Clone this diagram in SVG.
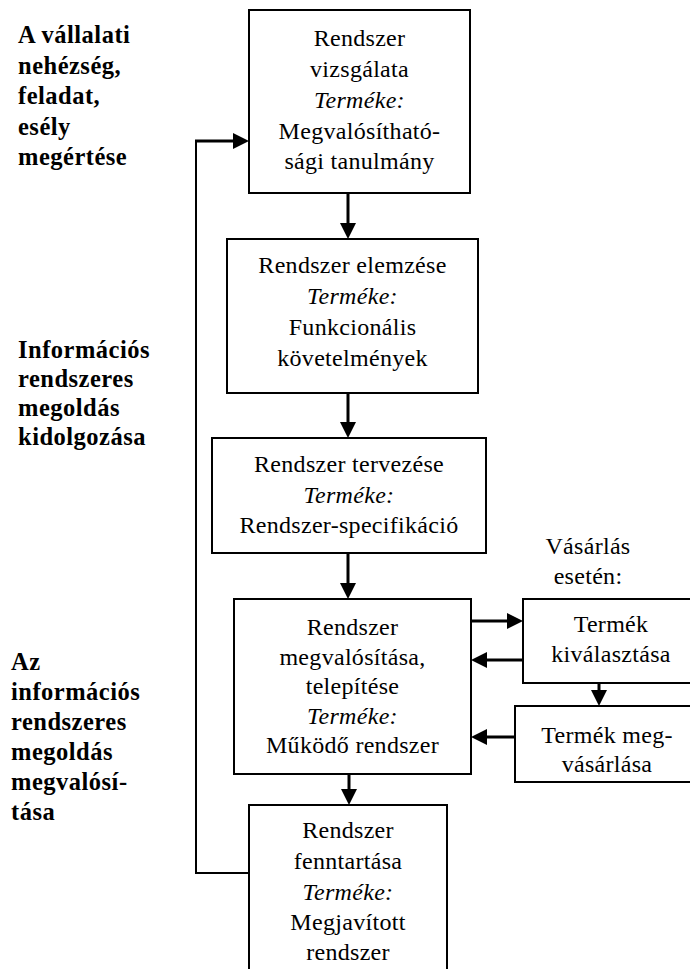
<svg xmlns="http://www.w3.org/2000/svg" width="690" height="969" viewBox="0 0 690 969">
<style>
.box{fill:#fff;stroke:#000;stroke-width:2}
.t{font-family:'Liberation Serif','DejaVu Serif',serif;font-size:24px;letter-spacing:0.3px;fill:#000;text-anchor:middle}
.i{font-style:italic}
.lbl{font-family:'Liberation Serif','DejaVu Serif',serif;font-size:24.5px;font-weight:bold;letter-spacing:0.5px;fill:#000}
.arr{fill:none;stroke:#000;stroke-width:3;marker-end:url(#ah)}
.ln{fill:none;stroke:#000;stroke-width:2}
</style>
<defs>
<marker id="ah" markerUnits="userSpaceOnUse" markerWidth="16" markerHeight="16" refX="12" refY="8" orient="auto" viewBox="0 0 16 16">
<path d="M0,0 L16,8 L0,16 z" fill="#000"/>
</marker>
</defs>
<rect width="690" height="969" fill="#fff"/>

<g id="labels">
<text class="lbl" x="18" y="43">A vállalati</text>
<text class="lbl" x="18" y="73.5">nehézség,</text>
<text class="lbl" x="18" y="104">feladat,</text>
<text class="lbl" x="18" y="134.5">esély</text>
<text class="lbl" x="18" y="165">megértése</text>
<text class="lbl" x="18" y="358">Információs</text>
<text class="lbl" x="18" y="387">rendszeres</text>
<text class="lbl" x="18" y="416">megoldás</text>
<text class="lbl" x="18" y="445">kidolgozása</text>
<text class="lbl" x="11" y="670">Az</text>
<text class="lbl" x="11" y="700">információs</text>
<text class="lbl" x="11" y="730">rendszeres</text>
<text class="lbl" x="11" y="760">megoldás</text>
<text class="lbl" x="11" y="790">megvalósí-</text>
<text class="lbl" x="11" y="820">tása</text>
</g>

<g id="connectors">
<line class="arr" x1="348" y1="193" x2="348" y2="235"/>
<line class="arr" x1="348" y1="393" x2="348" y2="434"/>
<line class="arr" x1="348" y1="553" x2="348" y2="595"/>
<line class="arr" x1="349" y1="774" x2="349" y2="801"/>
<line class="arr" x1="471" y1="621" x2="519" y2="621"/>
<line class="arr" x1="523" y1="660" x2="475" y2="660"/>
<line class="arr" x1="599" y1="683" x2="599" y2="702"/>
<line class="arr" x1="515" y1="737" x2="475" y2="737"/>
<polyline class="ln" points="249,873 196,873 196,141"/>
<line class="arr" x1="195" y1="141" x2="245" y2="141"/>
</g>

<g id="n1">
<rect class="box" x="249" y="10" width="221" height="183"/>
<text class="t" x="359.5" y="46">Rendszer</text>
<text class="t" x="359.5" y="77">vizsgálata</text>
<text class="t i" x="359.5" y="108">Terméke:</text>
<text class="t" x="359.5" y="139">Megvalósítható-</text>
<text class="t" x="359.5" y="169">sági tanulmány</text>
</g>

<g id="n2">
<rect class="box" x="227" y="239" width="251" height="154"/>
<text class="t" x="352.5" y="273">Rendszer elemzése</text>
<text class="t i" x="352.5" y="304">Terméke:</text>
<text class="t" x="352.5" y="335">Funkcionális</text>
<text class="t" x="352.5" y="366">követelmények</text>
</g>

<g id="n3">
<rect class="box" x="212" y="438" width="274" height="115"/>
<text class="t" x="349" y="472">Rendszer tervezése</text>
<text class="t i" x="349" y="503">Terméke:</text>
<text class="t" x="349" y="533">Rendszer-specifikáció</text>
</g>

<g id="n4">
<rect class="box" x="234" y="599" width="237" height="175"/>
<text class="t" x="352.5" y="635">Rendszer</text>
<text class="t" x="352.5" y="664.5">megvalósítása,</text>
<text class="t" x="352.5" y="694">telepítése</text>
<text class="t i" x="352.5" y="723.5">Terméke:</text>
<text class="t" x="352.5" y="753">Működő rendszer</text>
</g>

<g id="n5">
<rect class="box" x="249" y="805" width="198" height="190"/>
<text class="t" x="348" y="838">Rendszer</text>
<text class="t" x="348" y="869">fenntartása</text>
<text class="t i" x="348" y="900">Terméke:</text>
<text class="t" x="348" y="930">Megjavított</text>
<text class="t" x="348" y="960">rendszer</text>
</g>

<g id="note">
<text class="t" x="588" y="554">Vásárlás</text>
<text class="t" x="588" y="584">esetén:</text>
</g>

<g id="n6">
<rect class="box" x="523" y="599" width="180" height="84"/>
<text class="t" x="611" y="632">Termék</text>
<text class="t" x="611" y="662">kiválasztása</text>
</g>

<g id="n7">
<rect class="box" x="515" y="706" width="188" height="76"/>
<text class="t" x="607" y="743">Termék meg-</text>
<text class="t" x="607" y="772">vásárlása</text>
</g>
</svg>
